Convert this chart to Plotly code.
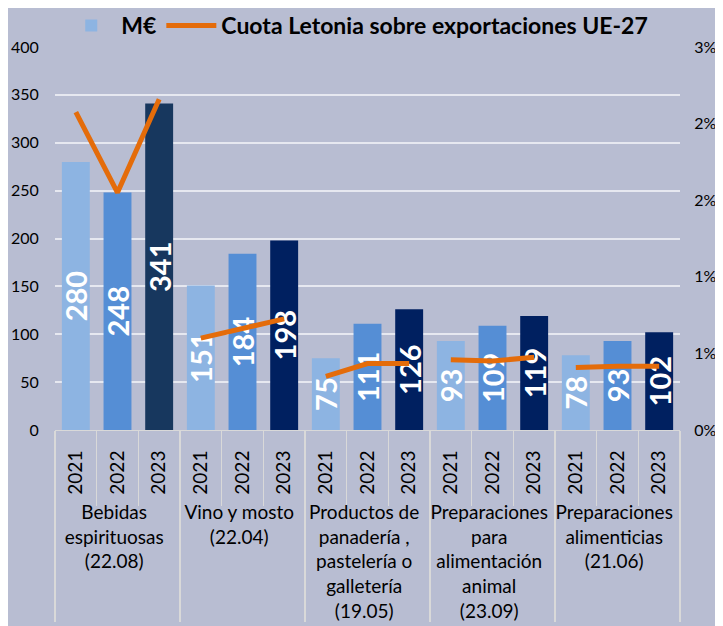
import plotly.graph_objects as go

groups = ["Bebidas<br>espirituosas<br>(22.08)", "Vino y mosto<br>(22.04)",
          "Productos de<br>panadería ,<br>pastelería o<br>galletería<br>(19.05)",
          "Preparaciones<br>para<br>alimentación<br>animal<br>(23.09)",
          "Preparaciones<br>alimenticias<br>(21.06)"]
years = ["2021", "2022", "2023"]
meur = [[280, 248, 341], [151, 184, 198], [75, 111, 126], [93, 109, 119], [78, 93, 102]]
cuota = [[0.0249, 0.0186, 0.0259], [0.0072, 0.0080, 0.0087], [0.0042, 0.0052, 0.0052],
         [0.0055, 0.0054, 0.0057], [0.0049, 0.0050, 0.0050]]
left_ticks = [0, 50, 100, 150, 200, 250, 300, 350, 400]
right_ticks = [0, 0.006, 0.012, 0.018, 0.024, 0.030]
right_labels = ["0%", "1%", "1%", "2%", "2%", "3%"]

year_colors = {"2021": "#8DB4E2", "2022": "#558ED5", "2023": "#002060"}

x0, x1, ys, colors, texts = [], [], [], [], []
for gi, g in enumerate(groups):
    for yi, yr in enumerate(years):
        x0.append(g)
        x1.append(yr)
        ys.append(meur[gi][yi])
        c = year_colors[yr]
        if gi == 0 and yr == "2023":
            c = "#17375E"
        colors.append(c)
        texts.append(str(meur[gi][yi]))

FONT = "Lato"
fig = go.Figure()
fig.add_trace(go.Bar(
    x=[x0, x1], y=ys, name="M€", marker=dict(color=colors, line=dict(width=0)),
    text=texts, textposition="inside", insidetextanchor="middle", textangle=-90,
    constraintext="none",
    textfont=dict(family=FONT, size=29, color="white", weight="bold"),
))
for gi, g in enumerate(groups):
    fig.add_trace(go.Scatter(
        x=[[g] * 3, years], y=cuota[gi], yaxis="y2", mode="lines",
        name="Cuota Letonia sobre exportaciones UE-27",
        line=dict(color="#E46C0A", width=5), legendgroup="cuota",
        showlegend=(gi == 0), hoverinfo="skip",
    ))

bg = "#B8BDD2"
# page body adds an 8px offset; size the figure to fit the 723x626 window
fig.update_layout(
    width=715, height=618, paper_bgcolor=bg, plot_bgcolor=bg,
    margin=dict(l=47, r=43, t=39, b=196, autoexpand=False),
    font=dict(family=FONT, color="black", size=16),
    bargap=0.33, showlegend=True,
    legend=dict(orientation="h", x=0.01, xanchor="left", y=1.0, yanchor="bottom",
                font=dict(size=23, weight="bold", color="black"), bgcolor="rgba(0,0,0,0)",
                itemwidth=50, tracegroupgap=0),
    xaxis=dict(type="multicategory", tickangle=-90, showgrid=False,
               tickfont=dict(size=19), dividercolor="#D9D9D9", dividerwidth=1.5,
               showdividers=True, ticks="outside", tickson="boundaries",
               tickcolor="#D9D9D9", ticklen=75, automargin=False,
               ticklabelstandoff=12,
               showline=True, linecolor="#D9D9D9"),
    yaxis=dict(range=[0, 400], tickvals=left_ticks, showgrid=True, gridcolor="#E6E8F0",
               gridwidth=1.5, zeroline=False, tickfont=dict(size=16), automargin=False,
               ticks="outside", ticklen=12, tickcolor=bg),
    yaxis2=dict(range=[0, 0.03], tickvals=right_ticks, ticktext=right_labels,
                overlaying="y", side="right", showgrid=False, zeroline=False,
                tickfont=dict(size=16), automargin=False, ticks="outside",
                ticklen=10, tickcolor=bg),
)
fig.write_html("out.html")
